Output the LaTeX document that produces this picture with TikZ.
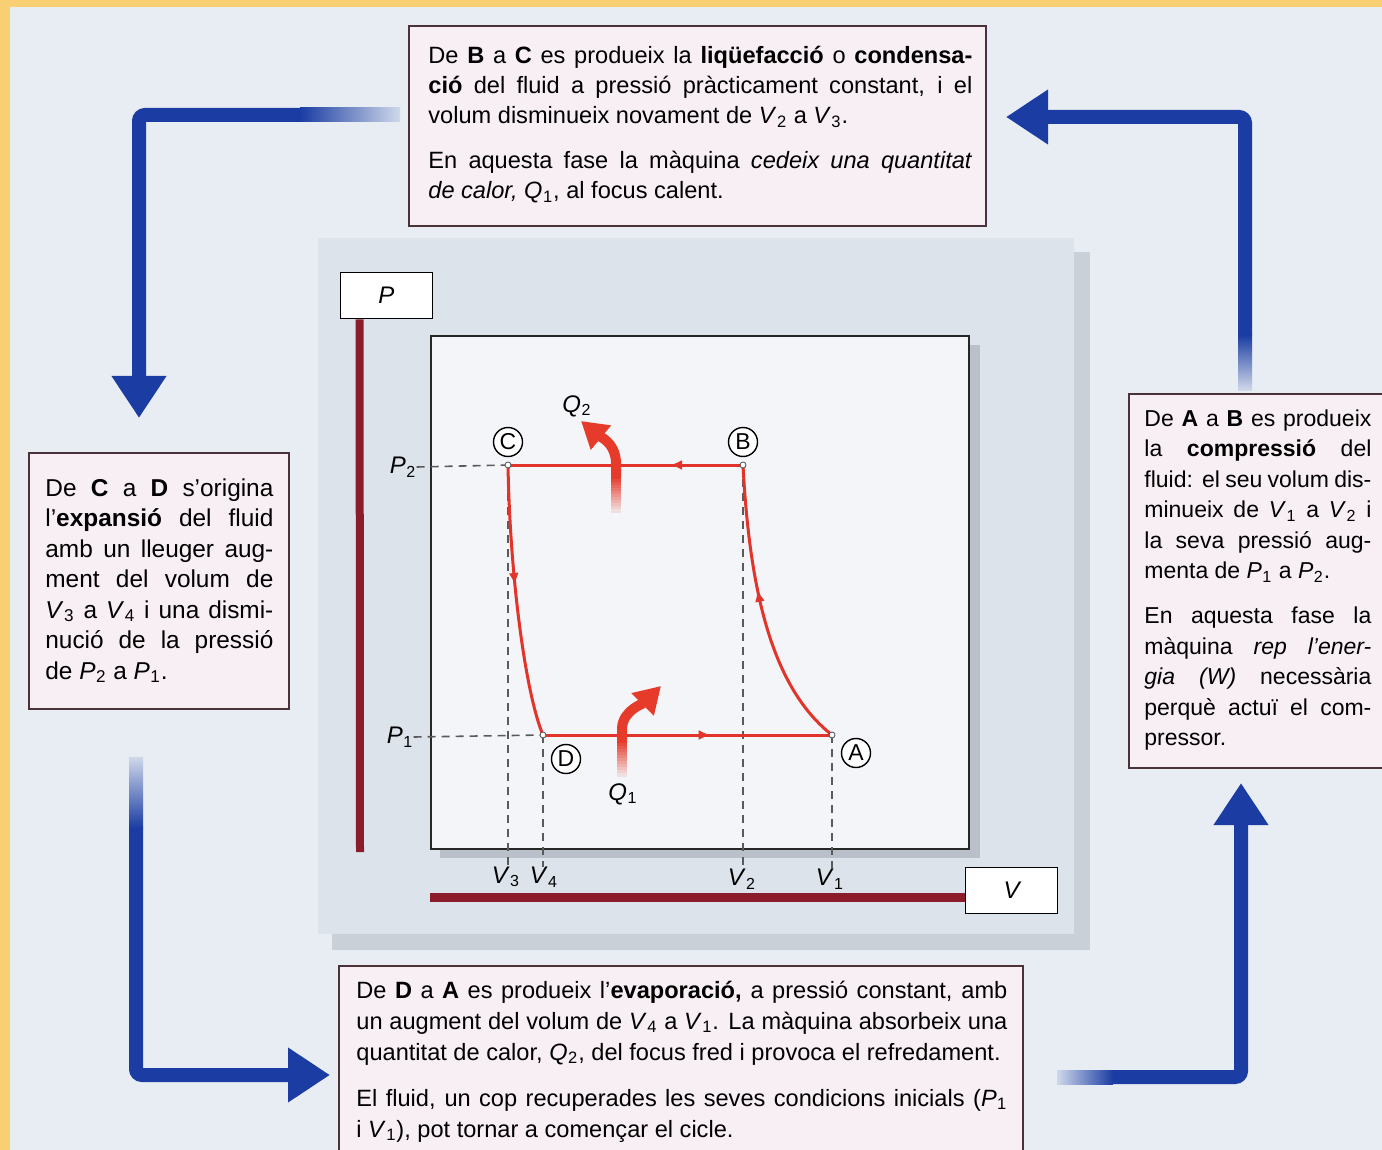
\documentclass[tikz,border=0pt]{standalone}
\usepackage{fontspec}
\setmainfont{Liberation Sans}
\usetikzlibrary{arrows.meta,decorations.markings}
\definecolor{bg}{HTML}{E8EDF3}
\definecolor{frameor}{HTML}{F9CF74}
\definecolor{panel}{HTML}{DDE3EA}
\definecolor{panelsh}{HTML}{C9D0D8}
\definecolor{plotbg}{HTML}{F3F5F8}
\definecolor{plotsh}{HTML}{B9C0C9}
\definecolor{boxfill}{HTML}{F8EFF4}
\definecolor{boxline}{HTML}{4A3238}
\definecolor{arblue}{HTML}{1B3DA3}
\definecolor{cyc}{HTML}{E2342A}
\definecolor{qred}{HTML}{E63A2B}
\definecolor{axisred}{HTML}{8A1C2C}
\definecolor{guidec}{HTML}{5A5A5A}
\newcommand\ssub[2]{\textit{#1}\kern0.02em\textsubscript{#2}}
\begin{document}
\begin{tikzpicture}[x=0.5pt,y=-0.5pt,
  box/.style={draw=boxline, fill=boxfill, line width=1pt, inner sep=0pt, anchor=north west},
  txt/.style={anchor=base west, inner sep=0pt, align=justify},
  bluearr/.style={draw=arblue, line width=7pt, rounded corners=3pt, -{Triangle[width=26pt,length=21pt]}},
  cycline/.style={draw=cyc, line width=1.5pt},
  midarrow/.style={postaction={decorate}, decoration={markings, mark=at position #1 with {\arrow{Latex[length=6pt,width=5pt]}}}},
  guide/.style={draw=guidec, line width=0.8pt, dash pattern=on 4pt off 3pt},
  vlab/.style={circle, draw=black, line width=0.7pt, fill=white, minimum size=14.5pt, inner sep=0pt, font=\fontsize{11.5}{11.5}\selectfont},
  axlab/.style={inner sep=0pt, font=\fontsize{12}{12}\selectfont},
  axbox/.style={draw=black, line width=0.9pt, fill=white, minimum width=46pt, minimum height=23pt, inner sep=0pt, font=\fontsize{12}{12}\selectfont\itshape},
  vtx/.style={circle, draw=black!70, fill=white, line width=0.4pt, minimum size=3pt, inner sep=0pt},
  qarr/.style={draw=qred, line width=5pt, -{Triangle[width=15pt,length=13pt]}},
  axisbar/.style={draw=axisred, line width=4pt},
  plotbox/.style={draw=black!85, line width=0.8pt, fill=plotbg, inner sep=0pt, anchor=north west}
]
\useasboundingbox (0,0) rectangle (1382,1150);
\begin{scope}
\clip (0,0) rectangle (1382,1150);
% background and frame
\fill[frameor] (0,0) rectangle (1382,1150);
\fill[bg] (10,7) rectangle (1382,1150);
% central panel
\fill[panelsh] (332,252) rectangle (1090,950);
\fill[panel] (318,238) rectangle (1074,934);
% plot box
\fill[plotsh] (440,345) rectangle (980,858);
\node[plotbox, minimum width=269pt, minimum height=256.5pt] (plot) at (430,335) {};
% axes
\node[axbox] (Pbox) at (386.5,295.5) {P};
\coordinate (Pax0) at ([xshift=10pt]Pbox.south west);
\coordinate (Pax1) at (360,852);
\draw[axisbar] (Pax0) -- (Pax1);
\coordinate (Vax0) at (430,897);
\node[axbox, draw=none, fill=none] (Vboxpos) at (1011.5,890.5) {};
\draw[axisbar, line width=4.5pt] (Vax0) -- (Vboxpos.west |- Vax0);
\node[axbox] (Vbox) at (1011.5,890.5) {V};
% cycle points
\coordinate (C) at (508,465);
\coordinate (B) at (743,465);
\coordinate (A) at (832,735);
\coordinate (D) at (543,735);
% labels
\node[axlab] (P2) at (403,467) {\ssub{P}{2}};
\node[axlab] (P1) at (400,737) {\ssub{P}{1}};
\node[axlab] (V3) at (506,877) {\ssub{V}{3}};
\node[axlab] (V4) at (544,877) {\ssub{V}{4}};
\node[axlab] (V2) at (742,879) {\ssub{V}{2}};
\node[axlab] (V1) at (830,879) {\ssub{V}{1}};
% guides
\draw[guide] (P2.east) -- (C);
\draw[guide] (P1.east) -- (D);
\draw[guide] (C) -- (C |- V3.north);
\draw[guide] (D) -- (D |- V4.north);
\draw[guide] (B) -- (B |- V2.north);
\draw[guide] (A) -- (A |- V1.north);
% cycle
\draw[cycline, midarrow=0.31] (B) -- (C);
\draw[cycline, midarrow=0.58] (D) -- (A);
\draw[cycline, midarrow=0.44] (C) .. controls (510,580) and (526,695) .. (D);
\draw[cycline, midarrow=0.57] (A) .. controls (775,690) and (750,600) .. (B);
\node[vtx] (Cv) at (C) {};
\node[vtx] (Bv) at (B) {};
\node[vtx] (Av) at (A) {};
\node[vtx] (Dv) at (D) {};
\node[vlab] (Clab) at (508,442) {C};
\node[vlab] (Blab) at (743,442) {B};
\node[vlab] (Dlab) at (566,759) {D};
\node[vlab] (Alab) at (856,753) {A};
% Q arrows
\foreach \k in {0,...,11} {
  \pgfmathtruncatemacro\pc{100-\k*8}
  \draw[qred!\pc!plotbg, line width=5pt] (616,476+\k*3) -- (616,479.6+\k*3);
  \draw[qred!\pc!plotbg, line width=5pt] (622,740+\k*3) -- (622,743.6+\k*3);
}
\coordinate (q2s) at (616,477);
\coordinate (q2e) at (581,421);
\draw[qarr] (q2s) -- (616,462) .. controls (615,442) and (599,436) .. (q2e);
\coordinate (q1s) at (622,741);
\coordinate (q1e) at (661,686);
\draw[qarr] (q1s) -- (622,728) .. controls (623,710) and (644,703) .. (q1e);
\node[axlab] (Q2) at (577,406) {\ssub{Q}{2}};
\node[axlab] (Q1) at (623,794) {\ssub{Q}{1}};
% text boxes
\node[box, minimum width=288.5pt, minimum height=100pt] (BCbox) at (408,25) {};
\node[txt, text width=272pt, font=\fontsize{11.8}{15}\selectfont] (BCtext) at (428,64) {De \textbf{B} a \textbf{C} es produeix la \textbf{liqüefacció} o \textbf{condensa-}\linebreak \textbf{ció} del fluid a pressió pràcticament constant, i el\linebreak volum disminueix novament de \ssub{V}{2} a \ssub{V}{3}.\par\vspace{7.5pt}En aquesta fase la màquina \textit{cedeix una quantitat}\linebreak \textit{de calor,} \ssub{Q}{1}, al focus calent.};
\node[box, minimum width=130pt, minimum height=128pt] (CDbox) at (28,452) {};
\node[txt, text width=114pt, font=\fontsize{12.2}{15.25}\selectfont] (CDtext) at (45,496) {De \textbf{C} a \textbf{D} s’origina\linebreak l’\textbf{expansió} del fluid\linebreak amb un lleuger aug-\linebreak ment del volum de\linebreak \ssub{V}{3} a \ssub{V}{4} i una dismi-\linebreak nució de la pressió\linebreak de \ssub{P}{2} a \ssub{P}{1}.};
\node[box, minimum width=136pt, minimum height=187pt] (ABbox) at (1128,393) {};
\node[txt, text width=113.5pt, font=\fontsize{11.5}{15.25}\selectfont] (ABtext) at (1144,426) {De \textbf{A} a \textbf{B} es produeix\linebreak la \textbf{compressió} del\linebreak {\spaceskip=0.16em plus 0.6em\relax fluid: el seu volum dis-}\linebreak minueix de \ssub{V}{1} a \ssub{V}{2} i\linebreak la seva pressió aug-\linebreak menta de \ssub{P}{1} a \ssub{P}{2}.\par\vspace{7.5pt}En aquesta fase la\linebreak màquina \textit{rep l’ener-}\linebreak \textit{gia (W)} necessària\linebreak perquè actuï el com-\linebreak pressor.};
\node[box, minimum width=342pt, minimum height=100pt] (DAbox) at (338,965) {};
\node[txt, text width=325.5pt, font=\fontsize{11.8}{15.5}\selectfont] (DAtext) at (356,998) {De \textbf{D} a \textbf{A} es produeix l’\textbf{evaporació,} a pressió constant, amb\linebreak un augment del volum de \ssub{V}{4} a \ssub{V}{1}. La màquina absorbeix una\linebreak quantitat de calor, \ssub{Q}{2}, del focus fred i provoca el refredament.\par\vspace{7.5pt}El fluid, un cop recuperades les seves condicions inicials (\ssub{P}{1}\linebreak i \ssub{V}{1}), pot tornar a començar el cicle.};
% blue arrows
\coordinate (tl0) at (300,115);
\coordinate (tl1) at (139,115);
\coordinate (tl2) at (139,418);
\shade[left color=arblue, right color=arblue!12!bg] (300,108) rectangle (400,122);
\draw[bluearr] (tl0) -- (tl1) -- (tl2);
\coordinate (tr0) at (1245,335);
\coordinate (tr1) at (1245,117);
\coordinate (tr2) at (1006,117);
\shade[top color=arblue, bottom color=arblue!12!bg] (1238,335) rectangle (1252,390);
\draw[bluearr] (tr0) -- (tr1) -- (tr2);
\coordinate (bl0) at (136,828);
\coordinate (bl1) at (136,1075);
\coordinate (bl2) at (330,1075);
\shade[top color=arblue!12!bg, bottom color=arblue] (129,757) rectangle (143,828);
\draw[bluearr] (bl0) -- (bl1) -- (bl2);
\coordinate (br0) at (1113,1077);
\coordinate (br1) at (1241,1077);
\coordinate (br2) at (1241,783);
\shade[left color=arblue!12!bg, right color=arblue] (1057,1070) rectangle (1113,1084);
\draw[bluearr] (br0) -- (br1) -- (br2);
\end{scope}
\end{tikzpicture}
\end{document}
